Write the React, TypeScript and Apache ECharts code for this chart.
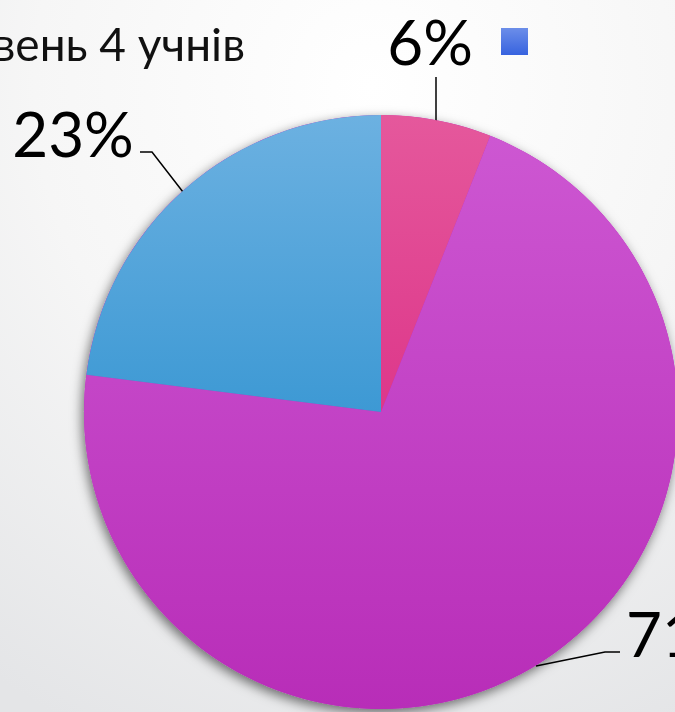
import React, { useEffect, useRef } from "react";
import * as echarts from "echarts";

const titleText = "Рівень 4 учнів";
const categories = ["Частка 1", "Частка 2", "Частка 3"];
const values = [6, 71, 23];
const topColors = ["#e5589c", "#cd57d2", "#6cb1e1"];
const bottomColors = ["#dd378a", "#b82db8", "#3d99d4"];

export default function App() {
  const ref = useRef<HTMLDivElement>(null);
  useEffect(() => {
    if (!ref.current) return;
    const chart = echarts.init(ref.current, null, { renderer: "svg" });
    const grad = (a: string, b: string) =>
      new echarts.graphic.LinearGradient(0, 0, 0, 1, [
        { offset: 0, color: a },
        { offset: 1, color: b },
      ]);
    const labelPos = [
      { x: 430, y: 41, align: "center", pts: [[436, 122], [436, 77], [436, 77]] },
      { x: 626, y: 633, align: "left", pts: [[536, 666], [605, 652], [620, 652]] },
      { x: 73, y: 133, align: "center", pts: [[183, 192], [152, 152], [140, 152]] },
    ];
    chart.setOption({
      animation: false,
      backgroundColor: {
        type: "radial",
        x: 0.55,
        y: 0.12,
        r: 1.0,
        colorStops: [
          { offset: 0, color: "#ffffff" },
          { offset: 0.5, color: "#f6f6f6" },
          { offset: 1, color: "#e4e5e7" },
        ],
      },
      graphic: [
        {
          type: "text",
          x: 245,
          y: 43,
          style: {
            text: titleText,
            textAlign: "right",
            textVerticalAlign: "middle",
            fontFamily: "Lato",
            fontSize: 46,
            fill: "#111",
          },
        },
        {
          type: "rect",
          shape: { x: 501, y: 28, width: 27, height: 27 },
          style: {
            fill: new echarts.graphic.LinearGradient(0, 0, 0, 1, [
              { offset: 0, color: "#6c8ee9" },
              { offset: 1, color: "#3763df" },
            ]),
          },
        },
      ],
      series: [
        {
          type: "pie",
          silent: true,
          center: [381, 412],
          radius: 297,
          z: 1,
          label: { show: false },
          labelLine: { show: false },
          data: [{ value: 1, name: "base" }],
          itemStyle: {
            color: "#b92eb9",
            shadowBlur: 12,
            shadowColor: "rgba(0,0,0,0.55)",
            shadowOffsetX: -2,
            shadowOffsetY: 4,
          },
        },
        {
          type: "pie",
          center: [381, 412],
          radius: 297,
          startAngle: 90,
          clockwise: true,
          z: 2,
          data: categories.map((c, i) => ({
            name: c,
            value: values[i],
            itemStyle: { color: grad(topColors[i], bottomColors[i]) },
          })),
          itemStyle: { borderWidth: 0 },
          label: {
            show: true,
            position: "outside",
            formatter: (p: any) => `${p.value}%`,
            fontFamily: "Lato",
            fontWeight: 400,
            fontSize: 62,
            color: "#000",
            overflow: "none",
          },
          labelLine: {
            show: true,
            length: 20,
            length2: 20,
            lineStyle: { color: "#000", width: 1.5 },
          },
          labelLayout: (params: any) => {
            const l = labelPos[params.dataIndex];
            return {
              x: l.x,
              y: l.y,
              align: l.align,
              verticalAlign: "middle",
              labelLinePoints: l.pts,
            };
          },
        },
      ],
    });
    return () => chart.dispose();
  }, []);
  return (
    <div
      ref={ref}
      style={{ position: "fixed", left: 0, top: 0, width: 675, height: 712 }}
    />
  );
}
